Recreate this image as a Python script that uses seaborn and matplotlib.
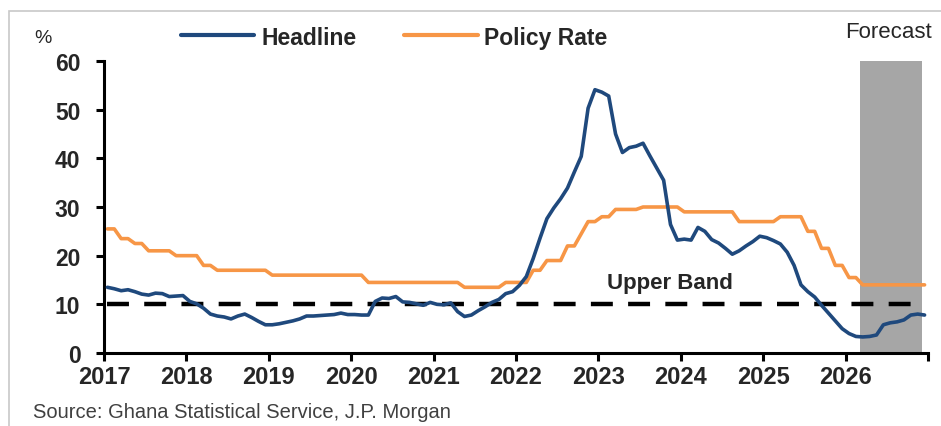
import numpy as np
import pandas as pd
import seaborn as sns
import matplotlib.pyplot as plt
from matplotlib.patches import Rectangle

# -- monthly data, Jan 2017 .. Dec 2026
start_month = "2017-01"
n_months = 120

headline = [
    13.5, 13.2, 12.8, 13.0, 12.6, 12.1, 11.9, 12.3, 12.2, 11.6, 11.7, 11.8,  # 2017
    10.6, 10.1, 9.2, 8.0, 7.6, 7.4, 7.0, 7.6, 8.0, 7.3, 6.5, 5.8,  # 2018
    5.8, 6.0, 6.3, 6.6, 7.0, 7.6, 7.6, 7.7, 7.8, 7.9, 8.2, 7.9,  # 2019
    7.9, 7.8, 7.8, 10.6, 11.3, 11.2, 11.6, 10.5, 10.4, 10.1, 9.8, 10.4,  # 2020
    10.0, 9.9, 10.3, 8.5, 7.5, 7.8, 8.7, 9.5, 10.4, 11.0, 12.2, 12.6,  # 2021
    13.9, 15.7, 19.4, 23.6, 27.6, 29.8, 31.7, 33.9, 37.2, 40.4, 50.3, 54.1,  # 2022
    53.6, 52.8, 45.0, 41.2, 42.2, 42.5, 43.1, 40.5, 38.0, 35.5, 26.4, 23.2,  # 2023
    23.4, 23.2, 25.8, 25.0, 23.3, 22.6, 21.5, 20.3, 21.0, 22.0, 22.9, 24.0,  # 2024
    23.7, 23.1, 22.4, 20.7, 18.0, 14.0, 12.6, 11.5, 9.8, 8.2, 6.6, 5.0,  # 2025
    4.0, 3.4, 3.3, 3.4, 3.7, 5.8, 6.2, 6.4, 6.8, 7.8, 8.0, 7.8,  # 2026
]

policy_rate = [
    25.5, 25.5, 23.5, 23.5, 22.5, 22.5, 21, 21, 21, 21, 20, 20,  # 2017
    20, 20, 18, 18, 17, 17, 17, 17, 17, 17, 17, 17,  # 2018
    16, 16, 16, 16, 16, 16, 16, 16, 16, 16, 16, 16,  # 2019
    16, 16, 14.5, 14.5, 14.5, 14.5, 14.5, 14.5, 14.5, 14.5, 14.5, 14.5,  # 2020
    14.5, 14.5, 14.5, 14.5, 13.5, 13.5, 13.5, 13.5, 13.5, 13.5, 14.5, 14.5,  # 2021
    14.5, 14.5, 17, 17, 19, 19, 19, 22, 22, 24.5, 27, 27,  # 2022
    28, 28, 29.5, 29.5, 29.5, 29.5, 30, 30, 30, 30, 30, 30,  # 2023
    29, 29, 29, 29, 29, 29, 29, 29, 27, 27, 27, 27,  # 2024
    27, 27, 28, 28, 28, 28, 25, 25, 21.5, 21.5, 18, 18,  # 2025
    15.5, 15.5, 14, 14, 14, 14, 14, 14, 14, 14, 14, 14,  # 2026
]

upper_band = 10
forecast_start = 2026.17
forecast_end = 2026.93
year_ticks = list(range(2017, 2028))
year_labels = [str(y) for y in range(2017, 2027)] + [""]

navy = "#1F497D"
orange = "#F79646"

# mid-month positions in decimal years
months = pd.date_range(start_month, periods=n_months, freq="MS")
xpos = months.year + (months.month - 0.5) / 12

df = pd.DataFrame({"x": xpos, "Headline": headline, "Policy Rate": policy_rate,
                   "Upper Band": [upper_band] * n_months})

sns.set_style("ticks")
plt.rcParams["font.family"] = ["Liberation Sans", "DejaVu Sans"]
plt.rcParams["lines.scale_dashes"] = False
narrow = ["Liberation Sans Narrow", "Liberation Sans", "DejaVu Sans"]

fig = plt.figure(figsize=(9.41, 4.27), dpi=100)
ax = fig.add_axes([104 / 941, 73 / 427, 824 / 941, 292 / 427])

ax.axvspan(forecast_start, forecast_end, color="#A6A6A6", lw=0, zorder=0)

sns.lineplot(data=df, x="x", y="Upper Band", ax=ax, color="black", lw=3.2,
             zorder=1)
band_line = ax.lines[-1]
# dash / gap in points (about 22 px on, 15 px off)
band_line.set_linestyle((0, (15.8, 11.0)))
band_line.set_dash_capstyle("butt")

sns.lineplot(data=df, x="x", y="Headline", ax=ax, color=navy, lw=2.6,
             label="Headline", zorder=3)
sns.lineplot(data=df, x="x", y="Policy Rate", ax=ax, color=orange, lw=2.6,
             label="Policy Rate", zorder=2)

ax.set_xlim(2017, 2027)
ax.set_ylim(0, 60)
ax.set_xticks(year_ticks)
ax.set_xticklabels(year_labels, fontsize=17, fontweight="bold", family=narrow)
ax.set_yticks(range(0, 61, 10))
ax.set_yticklabels([str(v) for v in range(0, 61, 10)], fontsize=16.5,
                   fontweight="bold", family=narrow)
ax.set_xlabel("")
ax.set_ylabel("")
ax.tick_params(axis="both", direction="out", length=6, width=2.2, color="black")
ax.tick_params(axis="x", pad=3)
ax.tick_params(axis="y", pad=11)
sns.despine(ax=ax)
for side in ["left", "bottom"]:
    ax.spines[side].set_linewidth(2.2)
    ax.spines[side].set_color("black")

ax.text(2023.87, 14.4, "Upper Band", ha="center", va="center",
        fontsize=16, fontweight="bold")

leg = ax.legend(loc="center", bbox_to_anchor=(0.419, 0.911),
                bbox_transform=fig.transFigure, ncol=2, frameon=False,
                handlelength=3.2, handletextpad=0.3, columnspacing=2.1,
                prop={"size": 16.5, "weight": "bold"})
for h in leg.legend_handles:
    h.set_linewidth(3)

fig.text(0.046, 0.911, "%", ha="center", va="center", fontsize=14)
fig.text(0.944, 0.925, "Forecast", ha="center", va="center", fontsize=16)
fig.text(0.035, 0.035, "Source: Ghana Statistical Service, J.P. Morgan",
         ha="left", va="center", fontsize=14.5, color="#404040")

# light frame around the exhibit
fig.patches.append(Rectangle((9 / 941, -0.1), 1.2, 1 - 12 / 427 + 0.1,
                             transform=fig.transFigure, fill=False,
                             ec="#C8C8C8", lw=1.2))

fig.savefig("out.png", dpi=100)
